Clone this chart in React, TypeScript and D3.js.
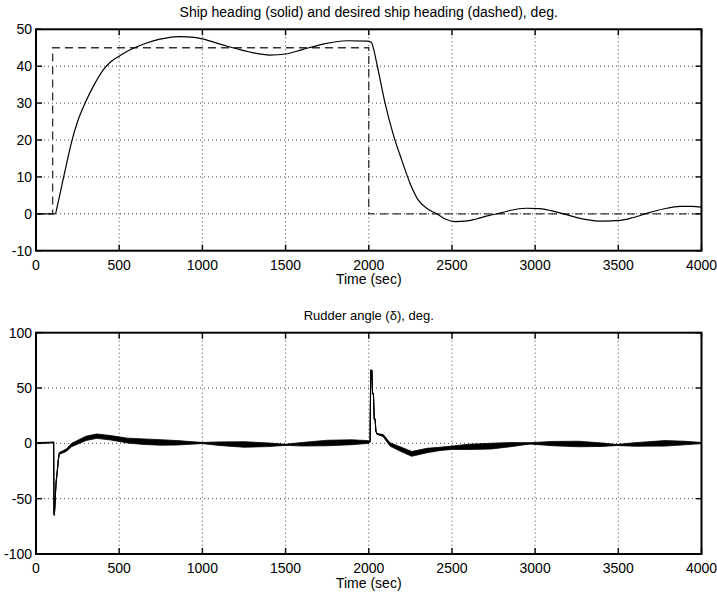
import React, { useEffect, useRef } from "react";
import * as d3 from "d3";

// tick values
const timeTicks = [0, 500, 1000, 1500, 2000, 2500, 3000, 3500, 4000];
const headingTicks = [-10, 0, 10, 20, 30, 40, 50];
const rudderTicks = [-100, -50, 0, 50, 100];

// desired heading (dashed)
const desiredTime = [0, 100, 100, 2000, 2000, 4000];
const desiredHeading = [0, 0, 45, 45, 0, 0];

// ship heading (solid)
const headingTime = [
  0, 100, 115, 130, 164, 190, 214, 250, 300, 350,
  408, 450, 500, 560, 625, 700, 780, 865, 950, 1000,
  1126, 1250, 1406, 1500, 1600, 1727, 1867, 1990, 2015, 2030,
  2048, 2098, 2148, 2198, 2248, 2298, 2348, 2408, 2460, 2520,
  2580, 2648, 2720, 2800, 2848, 2948, 3028, 3100, 3170, 3300,
  3410, 3510, 3590, 3670, 3770, 3870, 3940, 4000,
];
const heading = [
  0, 0, 0, 2.5, 9.5, 14.8, 19.5, 25, 30.5, 35,
  39.2, 41.2, 42.7, 44.3, 45.6, 46.8, 47.6, 48, 47.8, 47.4,
  45.7, 44.2, 43, 43.3, 44.5, 46, 46.9, 46.8, 46.5, 44.5,
  40.8, 30, 21.4, 14.6, 8.3, 3.7, 1.5, 0, -1.4, -2.1,
  -2, -1.4, -0.5, 0.3, 0.9, 1.5, 1.4, 0.8, 0, -1.5,
  -2, -1.8, -1, 0.1, 1.3, 2, 2, 1.8,
];

// rudder angle: mean value and the half-width of the chattering band
const rudderTime = [
  0, 50, 100, 106, 108, 110, 113, 117, 121, 128,
  135, 140, 164, 184, 214, 264, 300, 365, 450, 550,
  650, 750, 850, 1000, 1100, 1250, 1400, 1500, 1600, 1750,
  1900, 2000, 2008, 2012, 2019, 2023, 2028, 2033, 2038, 2043,
  2050, 2087, 2128, 2188, 2258, 2350, 2428, 2500, 2600, 2738,
  2850, 2969, 3100, 3260, 3400, 3490, 3600, 3780, 3900, 4000,
];
const rudder = [
  0.5, 0.5, 0.8, 1, -63, -65, -58, -45, -35, -25,
  -14, -9, -7.5, -6, -1.5, 2, 4.5, 6.5, 5, 2.5,
  1.5, 0.8, 0.5, 0.3, -0.3, -1, -1.3, -1.3, -0.8, 0.3,
  1, 1.2, 1.5, 66, 66, 45, 45, 22, 22, 11,
  8.5, 7, -1, -5, -9.5, -6.5, -5, -4, -3.2, -2.5,
  -1.2, 0, -0.2, -0.6, -1.2, -1.5, -1, 0, 0.3, 0.3,
];
const rudderBand = [
  0.3, 0.4, 0.3, 0, 0, 0, 0, 0, 0, 0,
  0, 0.8, 1, 1.2, 1.5, 1.8, 2, 2, 2, 2.2,
  2.5, 2.5, 2, 0.5, 1.6, 2.5, 1.6, 0.5, 1.6, 2.5,
  2.2, 1.2, 0, 0, 0, 0, 0, 0, 0, 0,
  0.3, 1, 1.5, 2, 2.2, 2, 1.5, 1.5, 2.4, 2.6,
  1.9, 0.6, 1.9, 2.5, 1.6, 0.5, 1.6, 2.5, 1.6, 0.5,
];

const W = 717;
const H = 596;
const left = 36;
const right = 701.5;
const font = "'Liberation Sans', Arial, Helvetica, sans-serif";

type Panel = {
  top: number;
  bottom: number;
  domain: [number, number];
  yTicks: number[];
  title: string;
  titleSize: number;
};

const panels: Panel[] = [
  {top: 29.3, bottom: 250.7, domain: [-10, 50], yTicks: headingTicks, titleSize: 14,
    title: "Ship heading (solid) and desired ship heading (dashed), deg."},
  {top: 332.7, bottom: 554, domain: [-100, 100], yTicks: rudderTicks, titleSize: 13,
    title: "Rudder angle (\u03b4), deg."},
];

function drawFrame(g: d3.Selection<SVGGElement, unknown, null, undefined>,
                   x: d3.ScaleLinear<number, number>,
                   y: d3.ScaleLinear<number, number>, p: Panel) {
  const grid = g.append("g")
    .attr("stroke", "#444")
    .attr("stroke-width", 1)
    .attr("stroke-dasharray", "1 3");
  timeTicks.filter(t => t > 0 && t < 4000).forEach(t => {
    grid.append("line")
      .attr("x1", x(t)).attr("x2", x(t))
      .attr("y1", p.top).attr("y2", p.bottom);
  });
  p.yTicks.filter(v => v > p.domain[0] && v < p.domain[1]).forEach(v => {
    grid.append("line")
      .attr("x1", left).attr("x2", right)
      .attr("y1", y(v)).attr("y2", y(v));
  });
}

function drawAxes(g: d3.Selection<SVGGElement, unknown, null, undefined>,
                  x: d3.ScaleLinear<number, number>,
                  y: d3.ScaleLinear<number, number>, p: Panel) {
  const tick = 6;
  const axes = g.append("g").attr("stroke", "#111").attr("stroke-width", 1.5);
  timeTicks.forEach(t => {
    axes.append("line").attr("x1", x(t)).attr("x2", x(t))
      .attr("y1", p.bottom).attr("y2", p.bottom - tick);
    axes.append("line").attr("x1", x(t)).attr("x2", x(t))
      .attr("y1", p.top).attr("y2", p.top + tick);
  });
  p.yTicks.forEach(v => {
    axes.append("line").attr("x1", left).attr("x2", left + tick)
      .attr("y1", y(v)).attr("y2", y(v));
    axes.append("line").attr("x1", right).attr("x2", right - tick)
      .attr("y1", y(v)).attr("y2", y(v));
  });
  g.append("rect")
    .attr("x", left).attr("y", p.top)
    .attr("width", right - left).attr("height", p.bottom - p.top)
    .attr("fill", "none").attr("stroke", "#000").attr("stroke-width", 2);

  const labels = g.append("g")
    .attr("font-family", font).attr("font-size", 14).attr("fill", "#000");
  timeTicks.forEach(t => {
    labels.append("text")
      .attr("x", x(t)).attr("y", p.bottom + 19)
      .attr("text-anchor", "middle").text(t);
  });
  p.yTicks.forEach(v => {
    labels.append("text")
      .attr("x", left - 4).attr("y", y(v)).attr("dy", "0.35em")
      .attr("text-anchor", "end").text(v);
  });
  labels.append("text")
    .attr("x", (left + right) / 2).attr("y", p.bottom + 33.5)
    .attr("text-anchor", "middle").text("Time (sec)");
  labels.append("text")
    .attr("x", (left + right) / 2).attr("y", p.top - 12.5)
    .attr("text-anchor", "middle").attr("font-size", p.titleSize).text(p.title);
}

export default function App() {
  const ref = useRef<SVGSVGElement>(null);

  useEffect(() => {
    const svg = d3.select(ref.current!);
    svg.selectAll("*").remove();
    const x = d3.scaleLinear().domain([0, 4000]).range([left, right]);

    // ---- top: heading
    const p0 = panels[0];
    const y0 = d3.scaleLinear().domain(p0.domain).range([p0.bottom, p0.top]);
    const g0 = svg.append("g");
    drawFrame(g0, x, y0, p0);

    const desired = d3.line<number>()
      .x(i => x(desiredTime[i]))
      .y(i => y0(desiredHeading[i]));
    g0.append("path")
      .attr("d", desired(d3.range(desiredTime.length)))
      .attr("fill", "none").attr("stroke", "#333")
      .attr("stroke-width", 1.3).attr("stroke-dasharray", "8 5");

    const actual = d3.line<number>()
      .x(i => x(headingTime[i]))
      .y(i => y0(heading[i]))
      .curve(d3.curveMonotoneX);
    g0.append("path")
      .attr("d", actual(d3.range(headingTime.length)))
      .attr("fill", "none").attr("stroke", "#000").attr("stroke-width", 1.2);
    drawAxes(g0, x, y0, p0);

    // ---- bottom: rudder
    const p1 = panels[1];
    const y1 = d3.scaleLinear().domain(p1.domain).range([p1.bottom, p1.top]);
    const g1 = svg.append("g");
    drawFrame(g1, x, y1, p1);

    const band = d3.area<number>()
      .x(i => x(rudderTime[i]))
      .y0(i => y1(rudder[i] - rudderBand[i]))
      .y1(i => y1(rudder[i] + rudderBand[i]));
    g1.append("path")
      .attr("d", band(d3.range(rudderTime.length)))
      .attr("fill", "#000").attr("stroke", "#000").attr("stroke-width", 0.8);

    const rudderLine = d3.line<number>()
      .x(i => x(rudderTime[i]))
      .y(i => y1(rudder[i]));
    g1.append("path")
      .attr("d", rudderLine(d3.range(rudderTime.length)))
      .attr("fill", "none").attr("stroke", "#000").attr("stroke-width", 1.2);
    drawAxes(g1, x, y1, p1);
  }, []);

  return (
    <svg ref={ref} width={W} height={H}
      style={{position: "absolute", left: 0, top: 0, background: "#fff"}} />
  );
}
